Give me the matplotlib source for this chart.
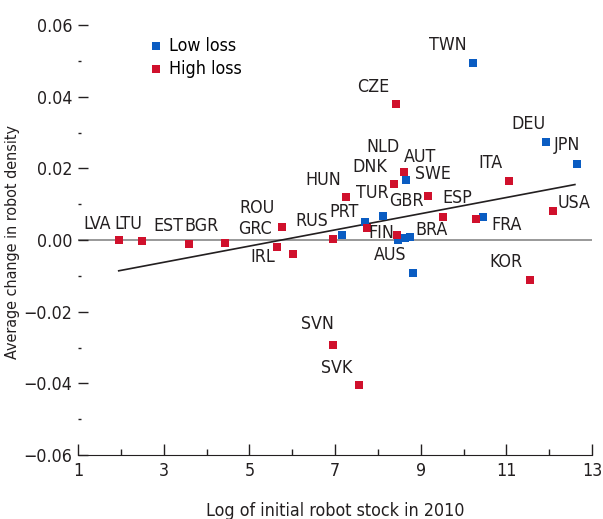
import numpy as np
import matplotlib.pyplot as plt
from matplotlib.ticker import FixedLocator, MultipleLocator, FuncFormatter

plt.rcParams['font.family'] = ['DejaVu Sans']
plt.rcParams['font.stretch'] = 'condensed'

# Дані: log початкового запасу роботів (2010) та середня зміна щільності роботів
low_x = [7.16, 7.71, 8.12, 8.66, 10.21, 10.46, 11.93, 12.65, 8.82, 8.48, 8.64, 8.76]
low_y = [0.0014, 0.0051, 0.0067, 0.0167, 0.0495, 0.0065, 0.0274, 0.0211, -0.0091, 0.0000, 0.0005, 0.0009]

high_x = [1.96, 2.50, 3.59, 4.43, 5.77, 5.65, 6.02, 6.96, 7.26, 7.74, 8.37, 8.62, 8.42,
          9.16, 9.52, 10.28, 11.05, 12.08, 11.55, 8.44, 6.95, 7.55]
high_y = [0.0000, -0.0003, -0.0011, -0.0008, 0.0036, -0.0019, -0.0039, 0.0002, 0.0121, 0.0034,
          0.0155, 0.0189, 0.0379, 0.0124, 0.0065, 0.0059, 0.0165, 0.0081, -0.0112, 0.0014,
          -0.0293, -0.0406]

# Підписи країн та їх розташування
labels = ['TWN', 'CZE', 'DEU', 'JPN', 'NLD', 'AUT', 'DNK', 'SWE', 'ITA', 'HUN', 'TUR', 'GBR',
          'ESP', 'PRT', 'RUS', 'USA', 'FRA', 'FIN', 'BRA', 'AUS', 'KOR', 'SVN', 'SVK',
          'LVA', 'LTU', 'EST', 'BGR', 'ROU', 'GRC', 'IRL']
label_x = [9.64, 7.90, 11.52, 12.42, 8.13, 8.99, 7.82, 9.28, 10.63, 6.72, 7.86, 8.66,
           9.85, 7.20, 6.45, 12.57, 11.01, 8.09, 9.25, 8.29, 11.00, 6.60, 7.04,
           1.45, 2.18, 3.11, 3.89, 5.19, 5.14, 5.31]
label_y = [0.0544, 0.0426, 0.0323, 0.0265, 0.0260, 0.0232, 0.0205, 0.0184, 0.0216, 0.0167, 0.0130, 0.0109,
           0.0118, 0.0079, 0.0053, 0.0102, 0.0042, 0.0019, 0.0028, -0.0042, -0.0060, -0.0235, -0.0358,
           0.0045, 0.0045, 0.0039, 0.0039, 0.0088, 0.0030, -0.0047]

# Лінія тренду
fit_x = [1.95, 12.6]
slope = 0.00226
intercept = -0.0130

blue = '#0a5cc2'
red = '#d0102c'
txt = '#231f20'
fs = 12.8

fig = plt.figure(figsize=(6.03, 5.19), dpi=100)
ax = fig.add_axes([0.1294, 0.1233, 0.8524, 0.8285])

ax.axhline(0, color='#888888', linewidth=1.2, zorder=1)
fx = np.array(fit_x)
ax.plot(fx, slope * fx + intercept, color=txt, linewidth=1.2, zorder=2)

ax.scatter(low_x, low_y, marker='s', s=38, color=blue, label='Low loss', zorder=3, linewidths=0)
ax.scatter(high_x, high_y, marker='s', s=38, color=red, label='High loss', zorder=3, linewidths=0)

for lab, lx, ly in zip(labels, label_x, label_y):
    ax.text(lx, ly, lab, fontsize=fs, color=txt, ha='center', va='center')

ax.set_xlim(1, 13)
ax.set_ylim(-0.06, 0.06)
ax.xaxis.set_major_locator(FixedLocator(np.arange(1, 14, 2)))
ax.xaxis.set_minor_locator(FixedLocator(np.arange(2, 13, 2)))
ax.yaxis.set_major_locator(MultipleLocator(0.02))
ax.yaxis.set_minor_locator(MultipleLocator(0.01))
ax.yaxis.set_major_formatter(FuncFormatter(lambda v, p: f'{v:.2f}'.replace('-', '\u2212')))

for s in ['top', 'right', 'left']:
    ax.spines[s].set_visible(False)
ax.spines['bottom'].set_color(txt)
ax.tick_params(axis='x', which='major', direction='in', length=8, width=1, colors=txt,
               labelsize=fs, pad=5)
ax.tick_params(axis='x', which='minor', direction='in', length=4, width=1, colors=txt)
ax.tick_params(axis='y', which='major', direction='in', length=7, width=1, colors=txt,
               labelsize=fs, pad=4)
ax.tick_params(axis='y', which='minor', direction='in', length=2, width=1, colors=txt)

ax.set_xlabel('Log of initial robot stock in 2010', fontsize=fs, color=txt, labelpad=16)
ax.set_ylabel('Average change in robot density', fontsize=11.5, color=txt)
ax.yaxis.set_label_coords(-0.113, 0.495)

ax.legend(loc='upper left', bbox_to_anchor=(0.1, 1.01), frameon=False, fontsize=fs,
          handletextpad=0.1, labelspacing=0.3, markerscale=0.9, handlelength=1.2)

fig.savefig('out.png', dpi=100)
